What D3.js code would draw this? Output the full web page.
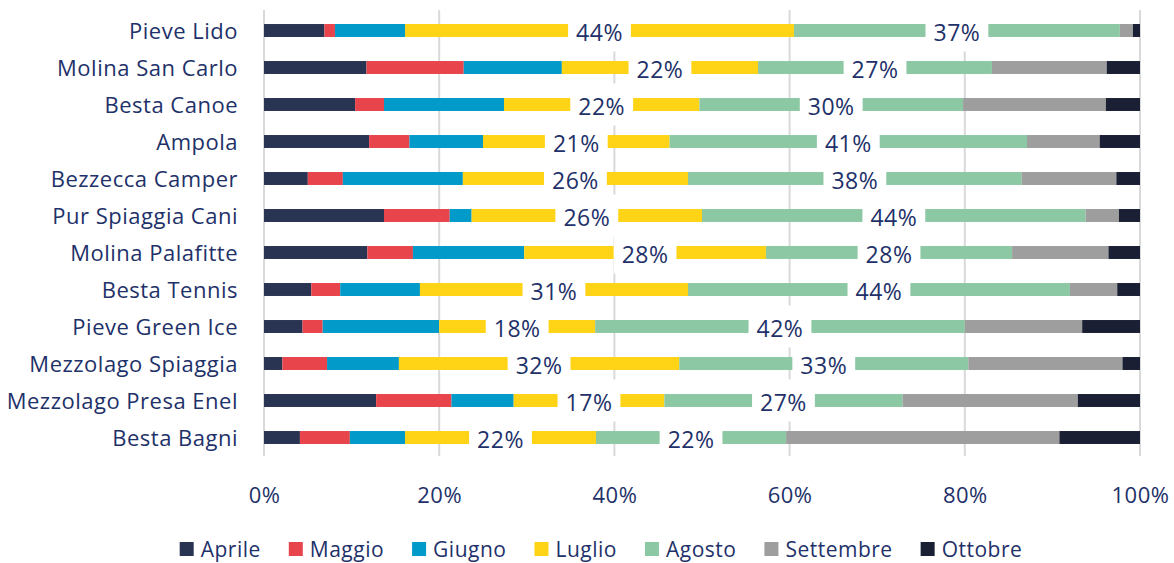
<!DOCTYPE html>
<html>
<head>
<meta charset="utf-8">
<script src="https://cdn.jsdelivr.net/npm/d3@7"></script>
<style>
  body { margin: 0; background: #fff; }
  svg text { font-family: "Open Sans", sans-serif; fill: #1e3169; letter-spacing: 0.5px; }
</style>
</head>
<body>
<div id="chart"></div>
<script>
// Categories, top to bottom
var categories = ["Pieve Lido", "Molina San Carlo", "Besta Canoe", "Ampola", "Bezzecca Camper",
  "Pur Spiaggia Cani", "Molina Palafitte", "Besta Tennis", "Pieve Green Ice",
  "Mezzolago Spiaggia", "Mezzolago Presa Enel", "Besta Bagni"];

var months = ["Aprile", "Maggio", "Giugno", "Luglio", "Agosto", "Settembre", "Ottobre"];

// Share (%) of each month per location, same order as categories
var aprile    = [6.9, 11.7, 10.4, 12.0, 5.0, 13.7, 11.8, 5.4, 4.4, 2.1, 12.8, 4.1];
var maggio    = [1.2, 11.1, 3.3, 4.6, 4.0, 7.5, 5.2, 3.3, 2.3, 5.1, 8.6, 5.7];
var giugno    = [8.0, 11.2, 13.7, 8.4, 13.7, 2.5, 12.7, 9.1, 13.3, 8.2, 7.1, 6.3];
var luglio    = [44.4, 22.4, 22.3, 21.3, 25.7, 26.3, 27.6, 30.6, 17.8, 32.0, 17.2, 21.8];
var agosto    = [37.2, 26.7, 30.1, 40.8, 38.1, 43.8, 28.1, 43.6, 42.2, 33.0, 27.2, 21.7];
var settembre = [1.5, 13.1, 16.3, 8.3, 10.8, 3.8, 11.0, 5.4, 13.4, 17.6, 20.0, 31.2];
var ottobre   = [0.8, 3.8, 3.9, 4.6, 2.7, 2.4, 3.6, 2.6, 6.6, 2.0, 7.1, 9.2];

var xTicks = [0, 0.2, 0.4, 0.6, 0.8, 1];
var labelled = ["Luglio", "Agosto"];

var colors = ["#293352", "#e8444c", "#019ac9", "#ffd416", "#8dc8a4", "#9d9e9d", "#1a1f33"];

// Build the table for d3.stack
var seriesValues = [aprile, maggio, giugno, luglio, agosto, settembre, ottobre];
var table = categories.map(function (c, i) {
  var row = { name: c };
  months.forEach(function (m, j) { row[m] = seriesValues[j][i]; });
  return row;
});

function drawChart() {
  var W = 1174, H = 563;
  var margin = { left: 264, right: 1140, top: 12, bottom: 456 };

  var svg = d3.select("#chart").append("svg")
    .attr("width", W).attr("height", H);

  var xScale = d3.scaleLinear().domain([0, 1]).range([margin.left, margin.right]);
  var yScale = d3.scaleBand().domain(categories).range([margin.top, margin.bottom])
    .paddingInner(0.65).paddingOuter(0.325);
  var color = d3.scaleOrdinal().domain(months).range(colors);

  var stacked = d3.stack().keys(months).offset(d3.stackOffsetExpand)(table);

  // Gridlines
  svg.append("g").attr("class", "grid")
    .selectAll("line").data(xTicks).enter().append("line")
      .attr("x1", function (d) { return xScale(d); })
      .attr("x2", function (d) { return xScale(d); })
      .attr("y1", 10).attr("y2", margin.bottom)
      .attr("stroke", "#d9d9d9").attr("stroke-width", 2);

  // Bars
  var layer = svg.selectAll("g.layer").data(stacked).enter().append("g")
    .attr("class", "layer")
    .attr("fill", function (d) { return color(d.key); });

  layer.selectAll("rect").data(function (d) { return d; }).enter().append("rect")
    .attr("x", function (d) { return xScale(d[0]); })
    .attr("width", function (d) { return xScale(d[1]) - xScale(d[0]); })
    .attr("y", function (d) { return yScale(d.data.name); })
    .attr("height", yScale.bandwidth());

  // Data labels with white boxes
  var fmt = d3.format(".0%");
  var labels = svg.append("g").attr("class", "labels");
  stacked.filter(function (s) { return labelled.indexOf(s.key) >= 0; }).forEach(function (s) {
    s.forEach(function (d) {
      var cx = xScale((d[0] + d[1]) / 2),
          cy = yScale(d.data.name) + yScale.bandwidth() / 2;
      var g = labels.append("g");
      var box = g.append("rect").attr("fill", "#fff");
      var t = g.append("text")
        .attr("x", cx).attr("y", cy + 10)
        .attr("text-anchor", "middle")
        .style("font-size", "23px")
        .text(fmt(d[1] - d[0]));
      var bb = t.node().getBBox();
      box.attr("x", bb.x - 8).attr("width", bb.width + 16)
        .attr("y", cy - 21).attr("height", 42);
    });
  });

  // Category axis
  var yAxis = d3.axisLeft(yScale).tickSize(0).tickPadding(26);
  svg.append("g").attr("class", "y-axis")
    .attr("transform", "translate(" + margin.left + ",0)")
    .call(yAxis)
    .call(function (g) { g.select(".domain").remove(); })
    .selectAll("text")
      .attr("dy", "0.37em")
      .style("font-size", "22px").attr("fill", "#1e3169");

  // Percent axis
  var xAxis = d3.axisBottom(xScale).tickValues(xTicks).tickFormat(fmt).tickSize(0).tickPadding(31);
  svg.append("g").attr("class", "x-axis")
    .attr("transform", "translate(0," + margin.bottom + ")")
    .call(xAxis)
    .call(function (g) { g.select(".domain").remove(); })
    .selectAll("text")
      .style("font-size", "22px").attr("fill", "#1e3169");

  // Legend
  var legend = svg.append("g").attr("class", "legend");
  var items = legend.selectAll("g").data(months).enter().append("g");
  items.append("rect").attr("width", 14).attr("height", 14).attr("y", -7)
    .attr("fill", function (d) { return color(d); });
  items.append("text").attr("x", 21).attr("dy", "0.36em")
    .style("font-size", "21px").text(function (d) { return d; });
  var pos = 0, offsets = [];
  items.each(function () {
    offsets.push(pos);
    pos += this.getBBox().width + 28;
  });
  var start = 601 - (pos - 28) / 2;
  items.attr("transform", function (d, i) {
    return "translate(" + (start + offsets[i]) + ",549)";
  });
}

drawChart();
</script>
</body>
</html>
